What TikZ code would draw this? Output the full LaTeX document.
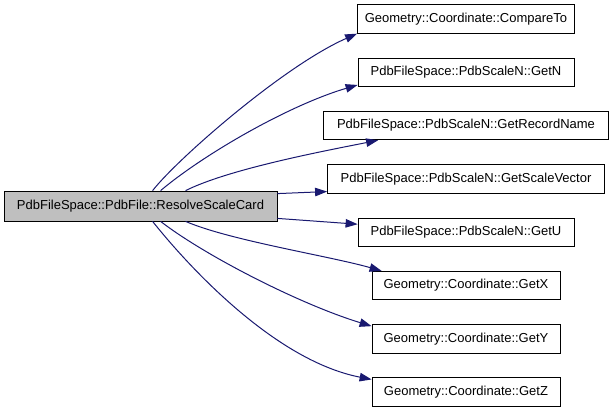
\documentclass[tikz,border=0pt]{standalone}
\usepackage{fontspec}
\setmainfont{Liberation Sans}
\usepackage{tikz}
\usetikzlibrary{positioning, arrows.meta}
\definecolor{cgedge}{HTML}{191970}
\definecolor{cgcaller}{HTML}{BFBFBF}

\begin{document}
\begin{tikzpicture}[
  node distance=24pt,
  fnbox/.style={
    rectangle, draw=black, fill=white, line width=0.8pt,
    minimum height=28.5pt, inner sep=0pt,
    font=\fontsize{13}{15}\selectfont
  },
  callerbox/.style={fnbox, fill=cgcaller, minimum height=30pt},
  call/.style={-{Triangle[length=12pt, width=8.5pt]}, line width=1pt, color=cgedge},
]
\useasboundingbox (0,0) rectangle (613pt,-413pt);

% Funktionen
\node[callerbox, minimum width=273pt] (resolve) at (140.5pt,-206pt) {PdbFileSpace::PdbFile::ResolveScaleCard};
\node[fnbox, minimum width=217pt] (compareto) at (466pt,-19pt) {Geometry::Coordinate::CompareTo};
\node[fnbox, minimum width=216pt, below=of compareto] (getn) {PdbFileSpace::PdbScaleN::GetN};
\node[fnbox, minimum width=285pt, below=of getn] (recname) {PdbFileSpace::PdbScaleN::GetRecordName};
\node[fnbox, minimum width=277pt, below=of recname] (scalevec) {PdbFileSpace::PdbScaleN::GetScaleVector};
\node[fnbox, minimum width=216pt, below=of scalevec] (getu) {PdbFileSpace::PdbScaleN::GetU};
\node[fnbox, minimum width=188pt, below=of getu] (getx) {Geometry::Coordinate::GetX};
\node[fnbox, minimum width=188pt, below=of getx] (gety) {Geometry::Coordinate::GetY};
\node[fnbox, minimum width=188pt, below=of gety] (getz) {Geometry::Coordinate::GetZ};

% Aufrufe
\draw[call] ([xshift=149pt]resolve.north west) .. controls +(25pt,32pt) and +(-73pt,-32pt) .. (compareto.south west);
\draw[call] ([xshift=157pt]resolve.north west) .. controls +(44pt,37pt) and +(-68pt,-20pt) .. ([yshift=2pt]getn.south west);
\draw[call] ([xshift=182pt]resolve.north west) .. controls +(44pt,22pt) and +(-50pt,-10pt) .. ([xshift=55pt]recname.south west);
\draw[call] ([yshift=-3pt]resolve.north east) -- ([yshift=2pt]scalevec.south west);
\draw[call] ([yshift=3pt]resolve.south east) -- ([yshift=8pt]getu.west);
\draw[call] ([xshift=182pt]resolve.south west) .. controls +(44pt,-19pt) and +(-53pt,15pt) .. ([xshift=10pt]getx.north west);
\draw[call] ([xshift=157pt]resolve.south west) .. controls +(44pt,-34pt) and +(-72pt,22pt) .. ([yshift=-2pt]gety.north west);
\draw[call] ([xshift=149pt]resolve.south west) .. controls +(27pt,-34pt) and +(-102pt,20pt) .. ([yshift=-2pt]getz.north west);

\end{tikzpicture}
\end{document}
